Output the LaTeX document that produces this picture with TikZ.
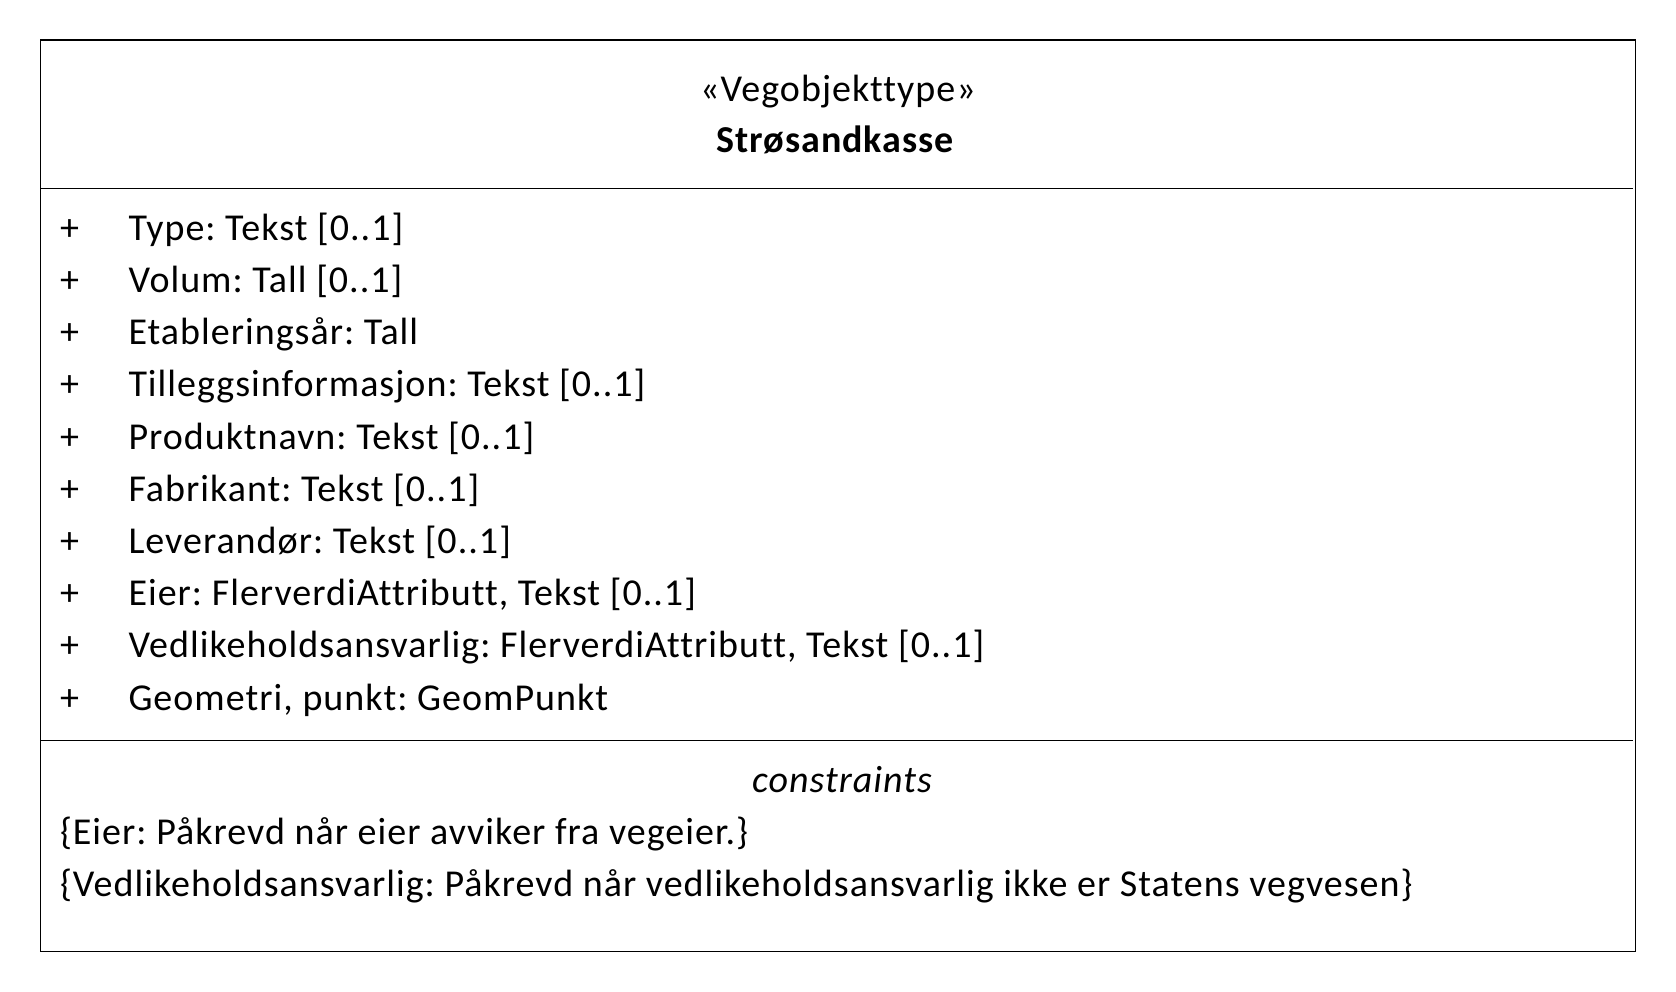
\documentclass[tikz,border=0pt]{standalone}
\usepackage{fontspec}
\setmainfont{Carlito}[Ligatures=NoCommon,LetterSpace=2.7]
\frenchspacing
\begin{document}
\begin{tikzpicture}[x=1pt,y=-1pt,
  txt/.style={inner sep=0pt,outer sep=0pt,font=\fontsize{38}{45}\selectfont},
  attr/.style={txt,anchor=base west},
  frame/.style={draw=black,line width=1.6pt},
  sep/.style={draw=black,line width=1.4pt}]
\useasboundingbox (0,0) rectangle (1676,992);
\draw[frame] (40.3,40.3) rectangle (1635.5,951.3);
\coordinate (d1l) at (40.3,188.3);
\coordinate (d1r) at (1632.7,188.3);
\coordinate (d2l) at (40.3,740.3);
\coordinate (d2r) at (1632.7,740.3);
\draw[sep] (d1l) -- (d1r);
\draw[sep] (d2l) -- (d2r);
% header
\node[txt,anchor=base] (stereo) at (838,101.5) {«Vegobjekttype»};
\node[txt,anchor=base,font=\fontsize{38}{45}\selectfont\bfseries] (name) at (835,153) {Strøsandkasse};
% attributes
\foreach \i/\t in {0/{Type: Tekst [0..1]},1/{Volum: Tall [0..1]},2/{Etableringsår: Tall},3/{Tilleggsinformasjon: Tekst [0..1]},4/{Produktnavn: Tekst [0..1]},5/{Fabrikant: Tekst [0..1]},6/{Leverandør: Tekst [0..1]},7/{Eier: FlerverdiAttributt, Tekst [0..1]},8/{Vedlikeholdsansvarlig: FlerverdiAttributt, Tekst [0..1]},9/{Geometri, punkt: GeomPunkt}}{
  \node[attr] (p\i) at (60,240.2+52.2*\i) {+};
  \node[attr] (a\i) at (128.5,240.2+52.2*\i) {\t};
}
% constraints
\node[txt,anchor=base,font=\fontsize{38}{45}\selectfont\itshape] (ctitle) at (842,792) {constraints};
\node[attr] (c1) at (60,844.5) {\{Eier: Påkrevd når eier avviker fra vegeier.\}};
\node[attr] (c2) at (60,896.8) {\{Vedlikeholdsansvarlig: Påkrevd når vedlikeholdsansvarlig ikke er Statens vegvesen\}};
\end{tikzpicture}
\end{document}
